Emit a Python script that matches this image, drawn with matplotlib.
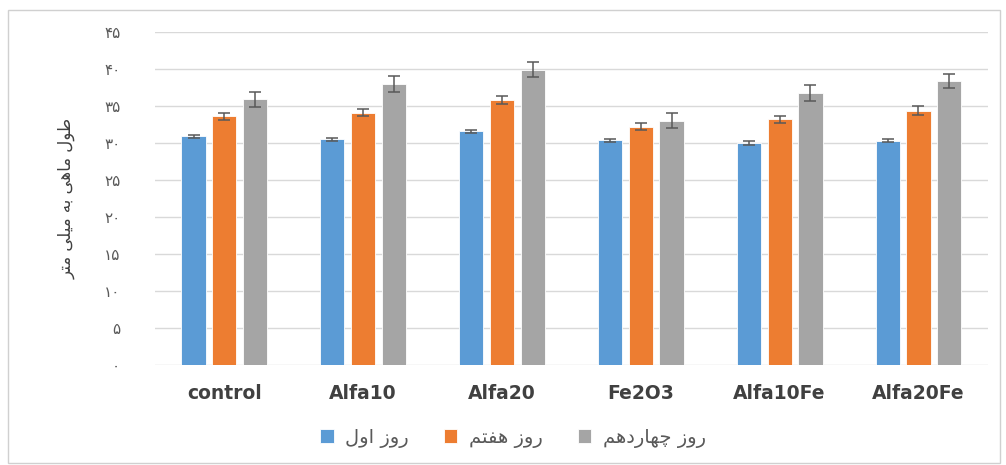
import numpy as np
import matplotlib
matplotlib.use('Agg')
import matplotlib.pyplot as plt
from matplotlib.patches import Rectangle

# data
groups = ['control', 'Alfa10', 'Alfa20', 'Fe2O3', 'Alfa10Fe', 'Alfa20Fe']
day1 = [30.9, 30.5, 31.6, 30.4, 30.0, 30.3]
day7 = [33.6, 34.1, 35.8, 32.2, 33.2, 34.4]
day14 = [35.9, 38.0, 39.9, 33.0, 36.8, 38.4]
day1_err = [0.2, 0.2, 0.2, 0.2, 0.25, 0.2]
day7_err = [0.5, 0.5, 0.5, 0.5, 0.5, 0.6]
day14_err = [1.0, 1.05, 1.0, 1.0, 1.05, 1.0]
series_names = ['روز اول', 'روز هفتم', 'روز چهاردهم']
y_label = 'طول ماهی به میلی متر'
yticks = [0, 5, 10, 15, 20, 25, 30, 35, 40, 45]

### simple persian shaping (no bidi lib available)
FORMS = {  # isolated, final, initial, medial
    'ا': ('\uFE8D', '\uFE8E', None, None),
    'ب': ('\uFE8F', '\uFE90', '\uFE91', '\uFE92'),
    'ت': ('\uFE95', '\uFE96', '\uFE97', '\uFE98'),
    'د': ('\uFEA9', '\uFEAA', None, None),
    'ر': ('\uFEAD', '\uFEAE', None, None),
    'ز': ('\uFEAF', '\uFEB0', None, None),
    'ط': ('\uFEC1', '\uFEC2', '\uFEC3', '\uFEC4'),
    'ف': ('\uFED1', '\uFED2', '\uFED3', '\uFED4'),
    'ل': ('\uFEDD', '\uFEDE', '\uFEDF', '\uFEE0'),
    'م': ('\uFEE1', '\uFEE2', '\uFEE3', '\uFEE4'),
    'ه': ('\uFEE9', '\uFEEA', '\uFEEB', '\uFEEC'),
    'و': ('\uFEED', '\uFEEE', None, None),
    'ی': ('\uFBFC', '\uFBFD', '\uFBFE', '\uFBFF'),
    'چ': ('\uFB7A', '\uFB7B', '\uFB7C', '\uFB7D'),
}

def shape(s):
    out = []
    for i, c in enumerate(s):
        if c not in FORMS:
            out.append(c); continue
        prev = s[i-1] if i > 0 else None
        nxt = s[i+1] if i < len(s)-1 else None
        dual = FORMS[c][2] is not None
        jp = prev in FORMS and FORMS[prev][2] is not None
        jn = dual and nxt in FORMS
        if jp and jn: f = FORMS[c][3]
        elif jn: f = FORMS[c][2]
        elif jp: f = FORMS[c][1]
        else: f = FORMS[c][0]
        out.append(f)
    return ''.join(out[::-1])

def fa_digits(n):
    return str(n).translate(str.maketrans('0123456789', '۰۱۲۳۴۵۶۷۸۹'))

plt.rcParams['font.family'] = ['DejaVu Sans']

fig = plt.figure(figsize=(10.06, 4.65), dpi=100)
ax = fig.add_axes([0.154, 0.215, 0.828, 0.716])

x = np.arange(len(groups))
w = 0.175
off = 0.222
colors = ['#5B9BD5', '#ED7D31', '#A5A5A5']
ekw = dict(ecolor='#595959', elinewidth=1.1, capthick=1.1)
for k, (vals, errs) in enumerate([(day1, day1_err), (day7, day7_err), (day14, day14_err)]):
    ax.bar(x + (k-1)*off, vals, w, yerr=errs, color=colors[k], edgecolor='white',
           linewidth=0.6, capsize=4, error_kw=ekw, label=shape(series_names[k]), zorder=3)

ax.set_xlim(-0.5, len(groups)-0.5)
ax.set_ylim(0, 45)
ax.set_yticks(yticks)
ax.set_yticklabels([fa_digits(t) for t in yticks], color='#595959', fontsize=11)
ax.set_xticks(x)
ax.set_xticklabels(groups, fontsize=13.5, fontweight='bold', color='#404040')
ax.tick_params(axis='y', length=0, pad=25)
ax.tick_params(axis='x', length=0, pad=14)
ax.grid(axis='y', color='#D9D9D9', linewidth=1, zorder=0)
for sp in ax.spines.values():
    sp.set_visible(False)
ax.set_ylabel(shape(y_label), fontsize=12, color='#404040', labelpad=20)

fig.legend(loc='center', bbox_to_anchor=(0.51, 0.058), ncol=3, frameon=False,
           fontsize=14, handlelength=0.7, handleheight=0.7, handletextpad=0.6,
           columnspacing=1.8, labelcolor='#595959')

fig.patches.append(Rectangle((0.008, 0.004), 0.986, 0.974, transform=fig.transFigure,
                             fill=False, edgecolor='#D0D0D0', linewidth=1))

fig.savefig('out.png', dpi=100)
